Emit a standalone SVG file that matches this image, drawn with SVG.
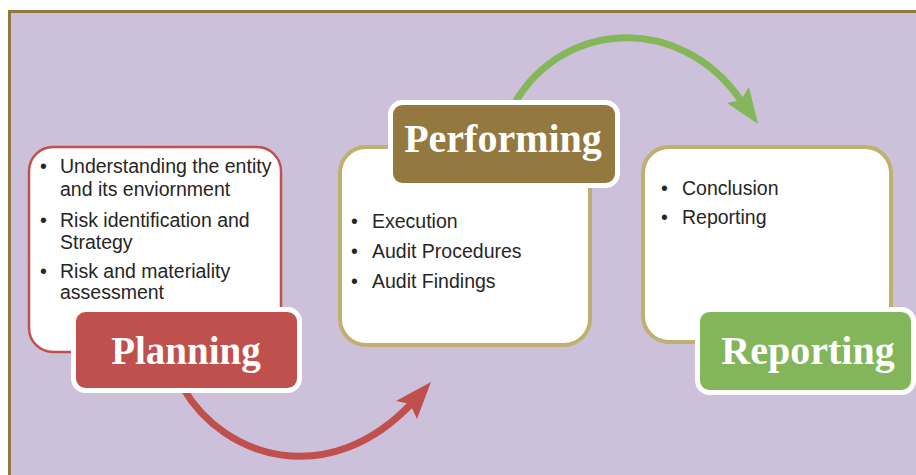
<svg xmlns="http://www.w3.org/2000/svg" width="916" height="475" viewBox="0 0 916 475">
<defs>
<style>
.box{fill:#ffffff;stroke-width:4}
.lbl{stroke:#ffffff;stroke-width:5}
.ltxt{font-family:"Liberation Serif","Times New Roman",serif;font-weight:bold;font-size:40px;fill:#ffffff;text-anchor:middle}
.btxt{font-family:"Liberation Sans",Arial,sans-serif;font-size:19.5px;fill:#262626}
.conn{fill:none;stroke-width:7}
</style>
</defs>
<rect x="0" y="0" width="916" height="475" fill="#ffffff"/>
<rect x="8" y="10" width="908" height="465" fill="#93793F"/>
<rect x="11" y="13" width="905" height="462" fill="#CDC0DA"/>

<g id="connectors">
<path class="conn" d="M183,388 C225,460 330,490 412,403" stroke="#C0504D"/>
<polygon points="431,382 396,401 410,404 417,419" fill="#C0504D"/>
<path class="conn" d="M510,112 C555,20 680,10 742,102" stroke="#84B65A"/>
<polygon points="758,124 727,103 741,100 749,87" fill="#84B65A"/>
</g>

<g id="planning">
<rect class="box" x="29" y="147" width="252" height="205" rx="24" stroke="#C0504D" style="stroke-width:2.5"/>
<g class="btxt">
<text x="40" y="173">•</text><text x="60" y="173">Understanding the entity</text>
<text x="60" y="196">and its enviornment</text>
<text x="40" y="227">•</text><text x="60" y="227">Risk identification and</text>
<text x="60" y="249">Strategy</text>
<text x="40" y="278">•</text><text x="60" y="278">Risk and materiality</text>
<text x="60" y="299">assessment</text>
</g>
<rect class="lbl" x="73.5" y="309.5" width="226" height="81" rx="12" fill="#C0504D"/>
<text class="ltxt" x="186" y="364" style="font-size:39px">Planning</text>
</g>

<g id="performing">
<rect class="box" x="340" y="147" width="250" height="198" rx="26" stroke="#C0B070"/>
<g class="btxt">
<text x="351" y="228">•</text><text x="372" y="228">Execution</text>
<text x="351" y="258">•</text><text x="372" y="258">Audit Procedures</text>
<text x="351" y="288">•</text><text x="372" y="288">Audit Findings</text>
</g>
<rect class="lbl" x="390.5" y="102.5" width="227" height="83" rx="12" fill="#93793F"/>
<text class="ltxt" x="503" y="152">Performing</text>
</g>

<g id="reporting">
<rect class="box" x="643" y="147" width="248" height="195" rx="26" stroke="#C0B070"/>
<g class="btxt">
<text x="661" y="195">•</text><text x="682" y="195">Conclusion</text>
<text x="661" y="224">•</text><text x="682" y="224">Reporting</text>
</g>
<rect class="lbl" x="697.5" y="309.5" width="216" height="83" rx="12" fill="#83B55A"/>
<text class="ltxt" x="808" y="364">Reporting</text>
</g>
</svg>
